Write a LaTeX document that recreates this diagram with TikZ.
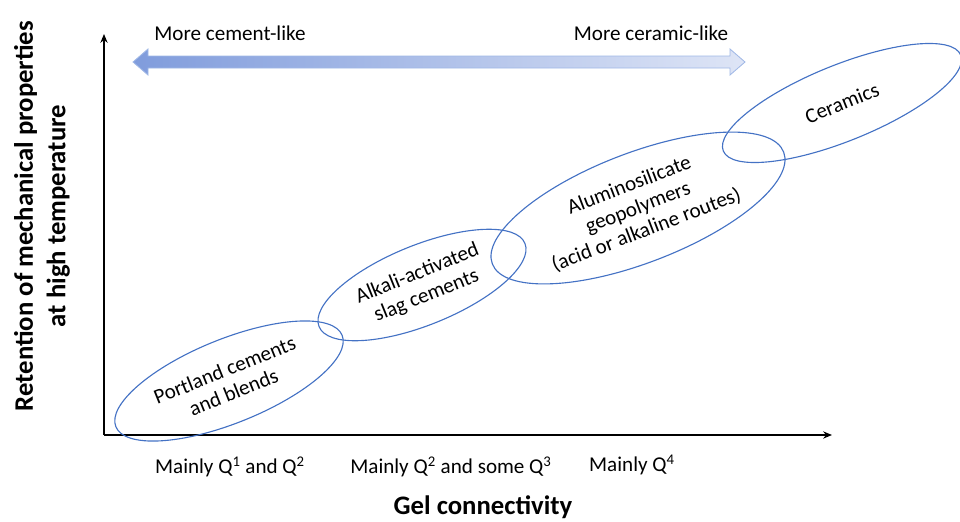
\documentclass[tikz,border=0pt]{standalone}
\usepackage{fontspec}
\setmainfont{Carlito}
\usetikzlibrary{arrows.meta, positioning, calc, shapes.geometric}

\definecolor{ringblue}{RGB}{68,114,196}
\definecolor{darkband}{RGB}{128,156,220}
\definecolor{lightband}{RGB}{222,229,246}
\definecolor{bandline}{RGB}{160,184,230}

\begin{document}
\begin{tikzpicture}[
    x=0.025cm, y=-0.025cm,
    axis/.style={-{Stealth[length=2.2mm, width=1.8mm]}, line width=1.4pt},
    family/.style={ellipse, draw=ringblue, line width=0.8pt, align=center, inner sep=0pt, font=\fontsize{15}{17}\selectfont},
    tag/.style={font=\fontsize{15}{17}\selectfont},
    title/.style={font=\bfseries\fontsize{19}{23}\selectfont, align=center}
]
    \useasboundingbox (0,0) rectangle (960,521);

    % axes
    \coordinate (origin) at (104,435);
    \coordinate (ytop) at (104,34);
    \coordinate (xend) at (832,435);
    \draw[axis] (origin) -- (ytop);
    \draw[axis] (origin) -- (xend);

    % shaded double arrow
    \path[draw=bandline, line width=0.6pt, left color=darkband, right color=lightband]
        (133,62) -- (148,49) -- (148,56) -- (730,56) -- (730,49) -- (745,62)
        -- (730,75) -- (730,68) -- (148,68) -- (148,75) -- cycle;
    \node[tag] (cement) at (230,33) {More cement-like};
    \node[tag] (ceramic) at (651,33) {More ceramic-like};

    % material families
    \node[family, minimum width=6.1cm, minimum height=2.1cm, rotate=22] (portland) at (229,381) {Portland cements\\and blends};
    \node[family, minimum width=5.55cm, minimum height=2.0cm, rotate=22] (slag) at (422,285) {Alkali-activated\\slag cements};
    \node[family, minimum width=7.8cm, minimum height=2.75cm, rotate=21] (geo) at (638,208) {Aluminosilicate\\geopolymers\\(acid or alkaline routes)};
    \node[family, minimum width=6.4cm, minimum height=1.9cm, rotate=22] (ceramics) at (842,103) {Ceramics};

    % axis labels
    \node[tag] (q12) at (230,467) {Mainly Q\textsuperscript{1} and Q\textsuperscript{2}};
    \node[tag] (q23) at (451,467) {Mainly Q\textsuperscript{2} and some Q\textsuperscript{3}};
    \node[tag] (q4) at (632,465) {Mainly Q\textsuperscript{4}};
    \node[title] (xtitle) at (483,507) {Gel connectivity};
    \node[title, rotate=90] (ytitle) at (42,216) {Retention of mechanical properties\\at high temperature};
\end{tikzpicture}
\end{document}
